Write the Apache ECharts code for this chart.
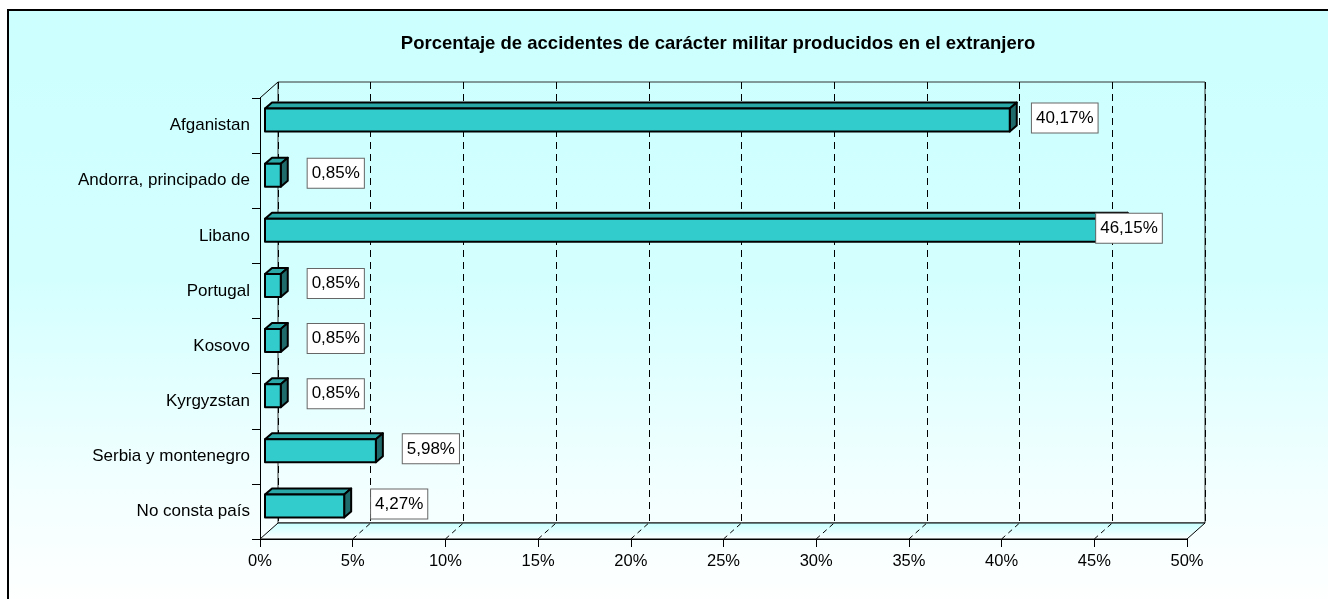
<!DOCTYPE html>
<html>
<head>
<meta charset="utf-8">
<title>Porcentaje de accidentes de carácter militar producidos en el extranjero</title>
<script src="https://cdn.jsdelivr.net/npm/echarts@6/dist/echarts.min.js"></script>
<style>
  html, body { margin: 0; padding: 0; background: #fff; }
  #chart { width: 1328px; height: 599px; }
</style>
</head>
<body>
<div id="chart"></div>
<script>
// datos
const titleText = 'Porcentaje de accidentes de carácter militar producidos en el extranjero'
const categories = ['Afganistan', 'Andorra, principado de', 'Libano', 'Portugal', 'Kosovo', 'Kyrgyzstan', 'Serbia y montenegro', 'No consta país']
const percentages = [40.17, 0.85, 46.15, 0.85, 0.85, 0.85, 5.98, 4.27]
const xTicks = [0, 5, 10, 15, 20, 25, 30, 35, 40, 45, 50]

// estilo
const FONT = 'Arial, "Liberation Sans", Helvetica, sans-serif'
const DEPTH_X = 18
const DEPTH_Y = -16

const fmtPct = (v) => v.toFixed(2).replace('.', ',') + '%'

/**
 * suelo 3D y diagonales de las paredes
 */
const renderFrame = (params, api) => {
  const cs = params.coordSys
  const bottom = cs.y + cs.height
  const right = cs.x + cs.width
  const children = [
    {
      type: 'polygon',
      shape: {
        points: [[cs.x, bottom], [right, bottom], [right + DEPTH_X, bottom + DEPTH_Y], [cs.x + DEPTH_X, bottom + DEPTH_Y]]
      },
      style: {
        fill: new echarts.graphic.LinearGradient(0, 0, 0, 1, [
          { offset: 0, color: '#c6ffff' },
          { offset: 1, color: '#ffffff' }
        ]),
        stroke: '#000',
        lineWidth: 1
      }
    },
    {
      type: 'line',
      shape: { x1: cs.x, y1: cs.y, x2: cs.x + DEPTH_X, y2: cs.y + DEPTH_Y },
      style: { stroke: '#000', lineWidth: 1 }
    }
  ]
  xTicks.slice(1, -1).forEach(t => {
    const x = api.coord([t, 0])[0]
    children.push({
      type: 'line',
      shape: { x1: x, y1: bottom, x2: x + DEPTH_X, y2: bottom + DEPTH_Y },
      style: { stroke: '#000', lineWidth: 1, lineDash: [5, 4] }
    })
  })
  return { type: 'group', children }
}

/**
 * barra 3D con etiqueta
 */
const renderBar = (params, api) => {
  const v = api.value(0)
  const idx = api.value(1)
  const start = api.coord([0, idx])
  const end = api.coord([v, idx])
  const cs = params.coordSys
  const h = 23
  const x = start[0] + 5
  const w = end[0] - start[0]
  const y = start[1] - 5.5 - h / 2
  const bx = 7
  const by = -6
  const outline = { stroke: '#000', lineWidth: 2, lineJoin: 'round' }

  const labelX = Math.min(end[0] + 60, cs.x + cs.width - 58)

  return {
    type: 'group',
    children: [
      {
        type: 'polygon',
        shape: { points: [[x, y], [x + bx, y + by], [x + w + bx, y + by], [x + w, y]] },
        style: Object.assign({ fill: '#2aa8a8' }, outline)
      },
      {
        type: 'polygon',
        shape: { points: [[x + w, y], [x + w + bx, y + by], [x + w + bx, y + h + by], [x + w, y + h]] },
        style: Object.assign({ fill: '#1f6b6b' }, outline)
      },
      {
        type: 'rect',
        shape: { x: x, y: y, width: w, height: h },
        style: Object.assign({ fill: '#33cccc' }, outline)
      },
      {
        type: 'text',
        x: labelX,
        y: y + h / 2 - 2,
        z2: 10,
        style: {
          text: fmtPct(v),
          fontSize: 17,
          fontFamily: FONT,
          fill: '#000',
          align: 'center',
          verticalAlign: 'middle',
          backgroundColor: '#fff',
          borderColor: '#666',
          borderWidth: 1,
          padding: [7, 4, 5, 4]
        }
      }
    ]
  }
}

const chart = echarts.init(document.getElementById('chart'))

const option = {
  animation: false,
  textStyle: { fontFamily: FONT },
  title: {
    text: titleText,
    left: 713,
    top: 29,
    textAlign: 'center',
    textStyle: { fontSize: 18.5, fontWeight: 'bold', color: '#000', fontFamily: FONT }
  },
  graphic: [
    {
      type: 'rect',
      z: -100,
      silent: true,
      shape: { x: 8, y: 10, width: 1340, height: 600 },
      style: {
        fill: new echarts.graphic.LinearGradient(0, 0, 0, 1, [
          { offset: 0, color: '#ccffff' },
          { offset: 0.45, color: '#d4ffff' },
          { offset: 0.8, color: '#f3ffff' },
          { offset: 1, color: '#ffffff' }
        ]),
        stroke: '#000',
        lineWidth: 2
      }
    }
  ],
  grid: [
    { left: 260, top: 98, width: 927, height: 441, outerBoundsMode: 'none' },
    { left: 260 + DEPTH_X, top: 98 + DEPTH_Y, width: 927, height: 441, show: true, borderColor: '#333', borderWidth: 1, backgroundColor: 'transparent', outerBoundsMode: 'none' }
  ],
  xAxis: [
    {
      type: 'value',
      gridIndex: 0,
      min: 0,
      max: 50,
      interval: 5,
      axisLine: { show: true, lineStyle: { color: '#000', width: 1 } },
      axisTick: { show: true, length: 8, lineStyle: { color: '#000' } },
      axisLabel: { formatter: '{value}%', fontSize: 16.5, color: '#000', margin: 14, fontFamily: FONT },
      splitLine: { show: false }
    },
    {
      type: 'value',
      gridIndex: 1,
      min: 0,
      max: 50,
      interval: 5,
      axisLine: { show: false },
      axisTick: { show: false },
      axisLabel: { show: false },
      splitLine: { show: true, lineStyle: { color: '#000', width: 1, type: [7, 5] } }
    }
  ],
  yAxis: [
    {
      type: 'category',
      gridIndex: 0,
      data: categories,
      inverse: true,
      axisLine: { show: true, lineStyle: { color: '#000', width: 1 } },
      axisTick: { show: true, length: 8, lineStyle: { color: '#000' } },
      axisLabel: { interval: 0, fontSize: 17, color: '#000', margin: 10, fontFamily: FONT },
      splitLine: { show: false }
    },
    {
      type: 'value',
      gridIndex: 1,
      show: false,
      splitLine: { show: false }
    }
  ],
  series: [
    {
      type: 'custom',
      name: 'suelo',
      xAxisIndex: 0,
      yAxisIndex: 0,
      z: 1,
      silent: true,
      clip: false,
      renderItem: renderFrame,
      encode: { x: 0, y: 1 },
      data: [[0, categories[0]]]
    },
    {
      type: 'custom',
      name: 'Porcentaje',
      xAxisIndex: 0,
      yAxisIndex: 0,
      z: 3,
      clip: false,
      renderItem: renderBar,
      encode: { x: 0, y: 1 },
      data: categories.map((c, i) => [percentages[i], c])
    }
  ]
}

chart.setOption(option)
</script>
</body>
</html>
